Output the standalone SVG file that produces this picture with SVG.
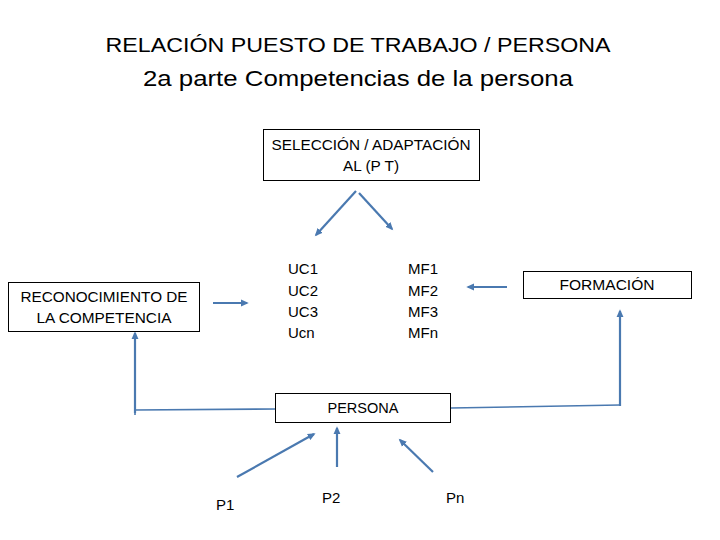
<svg xmlns="http://www.w3.org/2000/svg" width="720" height="540" viewBox="0 0 720 540">
<defs>
<style>
text{font-family:"Liberation Sans","DejaVu Sans",sans-serif;fill:#000}
.t1{font-size:21px}
.t2{font-size:22px}
.bx{font-size:14px}
.ls{font-size:15px}
.box{fill:#fff;stroke:#000;stroke-width:1}
.c{fill:none;stroke:#4a79b0;stroke-width:2.2}
.c2{fill:none;stroke:#4a79b0;stroke-width:1.6}
</style>
<marker id="ah" viewBox="0 0 10 10" refX="7" refY="5" markerWidth="4" markerHeight="4" orient="auto" markerUnits="strokeWidth">
<path d="M0,1 L9,5 L0,9 Z" fill="#4a79b0"/>
</marker>
</defs>
<rect width="720" height="540" fill="#fff"/>
<g id="title">
<text class="t1" x="358" y="52" text-anchor="middle" textLength="505" lengthAdjust="spacingAndGlyphs">RELACIÓN PUESTO DE TRABAJO / PERSONA</text>
<text class="t2" x="358" y="86" text-anchor="middle" textLength="430" lengthAdjust="spacingAndGlyphs">2a parte Competencias de la persona</text>
</g>
<g id="connectors">
<line class="c" x1="356" y1="191" x2="316" y2="235" marker-end="url(#ah)"/>
<line class="c" x1="359" y1="193" x2="392" y2="229" marker-end="url(#ah)"/>
<line class="c" x1="213" y1="303" x2="247" y2="303" marker-end="url(#ah)"/>
<line class="c" x1="507" y1="287" x2="468" y2="287" marker-end="url(#ah)"/>
<polyline class="c2" points="135,415 135,410 276,409"/>
<line class="c" x1="135" y1="413" x2="135" y2="333" marker-end="url(#ah)"/>
<polyline class="c2" points="451,408 620,405"/>
<line class="c" x1="620" y1="406" x2="620" y2="311" marker-end="url(#ah)"/>
<line class="c" x1="237" y1="477" x2="314" y2="434" marker-end="url(#ah)"/>
<line class="c" x1="337" y1="467" x2="337" y2="428" marker-end="url(#ah)"/>
<line class="c" x1="433" y1="472" x2="400" y2="440" marker-end="url(#ah)"/>
</g>
<g id="seleccion">
<rect class="box" x="263.5" y="129.5" width="216" height="51"/>
<text class="bx" x="371" y="150" text-anchor="middle" textLength="199" lengthAdjust="spacingAndGlyphs">SELECCIÓN / ADAPTACIÓN</text>
<text class="bx" x="371" y="171" text-anchor="middle" textLength="56" lengthAdjust="spacingAndGlyphs">AL (P T)</text>
</g>
<g id="reconocimiento">
<rect class="box" x="8.5" y="282.5" width="191" height="49"/>
<text class="bx" x="104" y="302" text-anchor="middle" textLength="167" lengthAdjust="spacingAndGlyphs">RECONOCIMIENTO DE</text>
<text class="bx" x="104" y="323" text-anchor="middle" textLength="135" lengthAdjust="spacingAndGlyphs">LA COMPETENCIA</text>
</g>
<g id="uc">
<text class="ls" x="288" y="274">UC1</text>
<text class="ls" x="288" y="296">UC2</text>
<text class="ls" x="288" y="317">UC3</text>
<text class="ls" x="288" y="338">Ucn</text>
</g>
<g id="mf">
<text class="ls" x="408" y="274">MF1</text>
<text class="ls" x="408" y="296">MF2</text>
<text class="ls" x="408" y="317">MF3</text>
<text class="ls" x="408" y="338">MFn</text>
</g>
<g id="formacion">
<rect class="box" x="523.5" y="271.5" width="168" height="27"/>
<text class="bx" x="607" y="290" text-anchor="middle" textLength="95" lengthAdjust="spacingAndGlyphs">FORMACIÓN</text>
</g>
<g id="persona">
<rect class="box" x="275.5" y="393.5" width="175" height="29"/>
<text class="bx" x="363" y="413" text-anchor="middle" textLength="71" lengthAdjust="spacingAndGlyphs">PERSONA</text>
</g>
<g id="p1"><text class="ls" x="216" y="510">P1</text></g>
<g id="p2"><text class="ls" x="322" y="503">P2</text></g>
<g id="pn"><text class="ls" x="446" y="503">Pn</text></g>
</svg>
